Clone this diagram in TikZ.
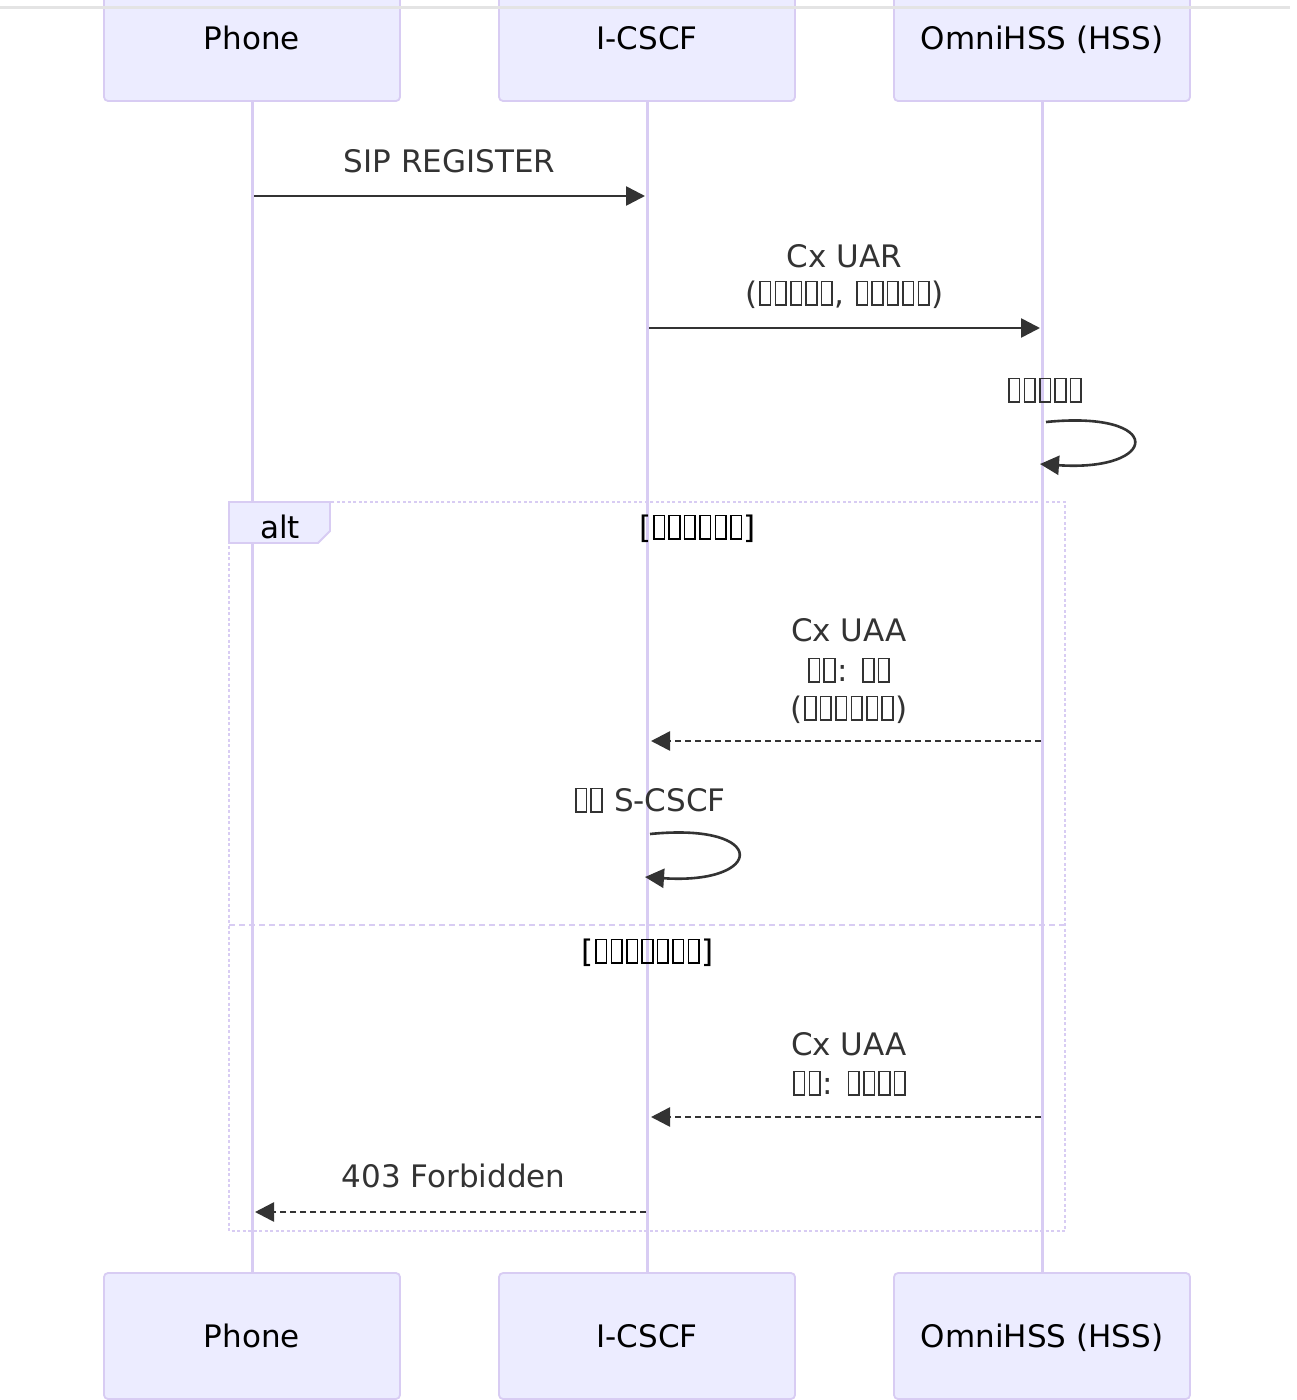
\documentclass[tikz,border=0pt]{standalone}
\usepackage{fontspec}
\setmainfont{DejaVu Sans}
\usetikzlibrary{arrows.meta}
\definecolor{actfill}{HTML}{ECECFF}
\definecolor{actline}{HTML}{D8CCF3}
\definecolor{msgc}{HTML}{333333}
\definecolor{topgray}{HTML}{E4E4E4}
\newcommand\tofu{\kern1.6pt\lower1.5pt\vbox{\hrule height1.6pt\hbox{\vrule width1.6pt height21.8pt depth0pt\kern9pt\vrule width1.6pt height21.8pt depth0pt}\hrule height1.6pt}\kern1.6pt}
\begin{document}
\begin{tikzpicture}[x=1pt,y=-1pt,
  actor/.style={draw=actline, fill=actfill, line width=1.8pt, rounded corners=4pt,
    minimum width=296pt, minimum height=126pt, inner sep=0pt,
    text height=26pt, text depth=3.4pt,
    font=\fontsize{31}{38}\selectfont, text=black},
  lifeline/.style={draw=actline, line width=3pt},
  msgtext/.style={font=\fontsize{31}{38}\selectfont, text=msgc, inner sep=0pt, anchor=base},
  condtext/.style={font=\fontsize{31}{38}\selectfont, text=black, inner sep=0pt, anchor=base},
  msg/.style={draw=msgc, line width=2.6pt, -{Triangle[length=19pt,width=19pt]}},
  reply/.style={msg, dash pattern=on 6pt off 4pt},
  frameline/.style={draw=actline, line width=2.8pt, dash pattern=on 3pt off 2.5pt},
  divline/.style={draw=actline, line width=2.8pt, dash pattern=on 6pt off 4pt},
  lblbox/.style={draw=actline, fill=actfill, line width=1.8pt}
]
\clip (0,0) rectangle (1297,1400);
\fill[white] (0,0) rectangle (1297,1400);
\useasboundingbox (0,0) rectangle (1297,1400);

% actors
\node[actor] (pt) at (252,38) {Phone};
\node[actor] (it) at (647,38) {I-CSCF};
\node[actor] (ht) at (1042,38) {OmniHSS (HSS)};
\node[actor] (pb) at (252,1336) {Phone};
\node[actor] (ib) at (647,1336) {I-CSCF};
\node[actor] (hb) at (1042,1336) {OmniHSS (HSS)};

% top edge
\draw[topgray, line width=3pt] (0,7) -- (1290,7);

% lifelines
\draw[lifeline] (pt.south) -- (pb.north);
\draw[lifeline] (it.south) -- (ib.north);
\draw[lifeline] (ht.south) -- (hb.north);

% alt frame
\draw[frameline] (229,502) rectangle (1065,1231);
\draw[divline] (229,925) -- (1065,925);
\draw[lblbox] (229,502) -- (330,502) -- (330,531) -- (318,543) -- (229,543) -- cycle;
\node[condtext] (altlbl) at (280,538) {alt};
\node[condtext] (cond1) at (697.5,538) {[\tofu\tofu\tofu\tofu\tofu\tofu]};
\node[condtext] (cond2) at (647.5,962) {[\tofu\tofu\tofu\tofu\tofu\tofu\tofu]};

% message 1
\coordinate (m1a) at (254,196);
\coordinate (m1b) at (645,196);
\node[msgtext] (t1) at (449.5,172) {SIP REGISTER};
\draw[msg] (m1a) -- (m1b);

% message 2
\coordinate (m2a) at (649,328);
\coordinate (m2b) at (1040,328);
\node[msgtext] (t2a) at (844.5,267) {Cx UAR};
\node[msgtext] (t2b) at (844.5,304) {(\tofu\tofu\tofu\tofu\tofu, \tofu\tofu\tofu\tofu\tofu)};
\draw[msg] (m2a) -- (m2b);

% self loop HSS
\coordinate (s1a) at (1046,422);
\coordinate (s1b) at (1040,464);
\node[msgtext] (t3) at (1045,401) {\tofu\tofu\tofu\tofu\tofu};
\draw[msg] (s1a) .. controls (1166,410) and (1160,472) .. (s1b);

% message 3
\coordinate (m3a) at (1041,741);
\coordinate (m3b) at (651,741);
\node[msgtext] (t4a) at (849,641) {Cx UAA};
\node[msgtext] (t4b) at (849,681) {\tofu\tofu: \tofu\tofu};
\node[msgtext] (t4c) at (849,719) {(\tofu\tofu\tofu\tofu\tofu\tofu)};
\draw[reply] (m3a) -- (m3b);

% self loop I-CSCF
\coordinate (s2a) at (650,834);
\coordinate (s2b) at (645,877);
\node[msgtext] (t5) at (649.5,811) {\tofu\tofu{} S-CSCF};
\draw[msg] (s2a) .. controls (770,822) and (765,885) .. (s2b);

% message 4
\coordinate (m4a) at (1041,1117);
\coordinate (m4b) at (651,1117);
\node[msgtext] (t6a) at (849,1055) {Cx UAA};
\node[msgtext] (t6b) at (849.5,1094) {\tofu\tofu: \tofu\tofu\tofu\tofu};
\draw[reply] (m4a) -- (m4b);

% message 5
\coordinate (m5a) at (646,1212);
\coordinate (m5b) at (255,1212);
\node[msgtext] (t7) at (453.5,1187) {403 Forbidden};
\draw[reply] (m5a) -- (m5b);
\end{tikzpicture}
\end{document}
